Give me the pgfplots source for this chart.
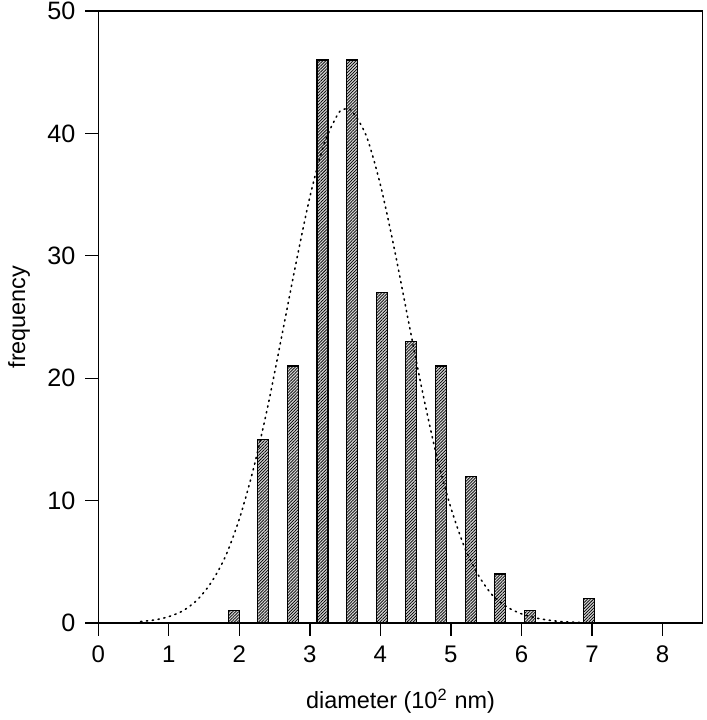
\documentclass[border=0pt]{standalone}
\usepackage{pgfplots}
\pgfplotsset{compat=1.18}
\usetikzlibrary{patterns.meta}
\usepackage{fontspec}
\setmainfont{Liberation Sans}

\begin{document}
\begin{tikzpicture}
\useasboundingbox (-34.4pt,-33.95pt) rectangle (212.7pt,218.05pt);
\begin{axis}[
  scale only axis, width=211.54pt, height=214.2pt,
  at={(0,0)}, anchor=south west,
  xmin=0, xmax=8.57, ymin=0, ymax=50,
  xtick={0,1,2,3,4,5,6,7,8}, ytick={0,10,20,30,40,50},
  xtick pos=bottom, ytick pos=left, tick align=outside,
  major tick length=4.5pt,
  axis line style={line width=0.45pt, black},
  tick style={line width=0.45pt, black},
  xticklabel style={font=\fontsize{8.4}{9.5}\selectfont},
  yticklabel style={font=\fontsize{8.8}{9.5}\selectfont},
  label style={font=\fontsize{8.2}{9.5}\selectfont},
  /pgf/number format/assume math mode=true,
  xlabel={diameter (10\textsuperscript{2} nm)},
  ylabel={frequency},
  ylabel style={at={(axis description cs:-0.131,0.5)}, anchor=center},
  xlabel style={at={(axis description cs:0.5,-0.128)}, anchor=center},
]
\addplot[ybar, bar width=0.156, bar shift=0pt, draw=black, line width=0.4pt,
  preaction={fill=gray!35},
  pattern={Lines[angle=45,distance=0.75pt,line width=0.25pt]}]
  coordinates {
  (1.92,1) (2.34,15) (2.76,21) (3.18,46) (3.60,46) (4.02,27)
  (4.44,23) (4.86,21) (5.28,12) (5.70,4) (6.12,1) (6.96,2)
  };
\addplot[black, line width=0.55pt, dash pattern=on 0.45pt off 1.6pt, line cap=round, smooth]
  coordinates {
  (0.6,0.12) (0.8,0.25) (1.0,0.52) (1.2,1.0) (1.4,1.87) (1.6,3.3) (1.8,5.4)
  (2.0,8.5) (2.2,12.6) (2.4,17.6) (2.6,23.4) (2.8,29.3) (3.0,34.8) (3.2,39.1)
  (3.4,41.6) (3.5,42.0) (3.6,41.8) (3.8,39.8) (4.0,35.8) (4.2,30.5) (4.4,24.6)
  (4.6,18.8) (4.8,13.6) (5.0,9.4) (5.2,6.1) (5.4,3.8) (5.6,2.2) (5.8,1.3)
  (6.0,0.75) (6.2,0.42) (6.4,0.22) (6.6,0.1) (6.8,0.05) (7.0,0.02) (7.5,0.01) (8.1,0.0)
  };
\end{axis}
\end{tikzpicture}
\end{document}
